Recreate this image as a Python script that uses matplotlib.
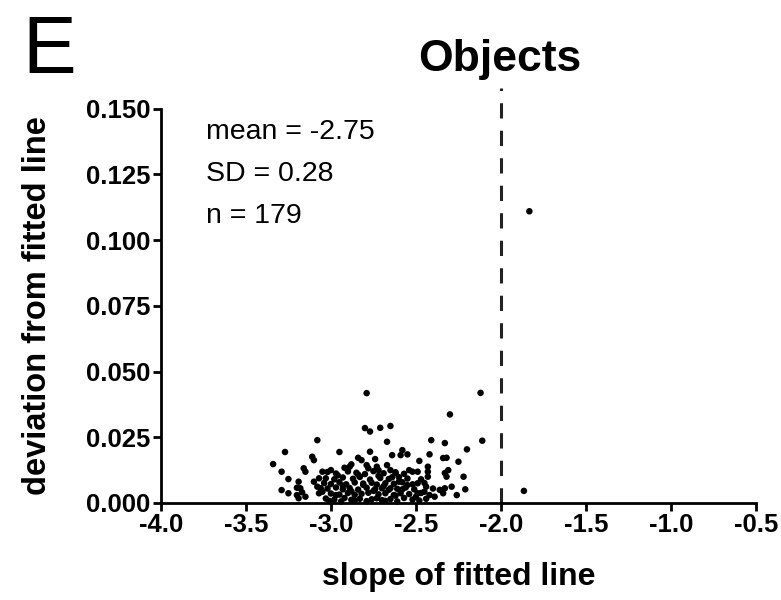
import matplotlib
matplotlib.use("Agg")
import matplotlib.pyplot as plt

plt.rcParams['font.family'] = ['Liberation Sans', 'DejaVu Sans']

# slope / deviation pairs for each object (n = 179)
slope = [
    -2.79, -2.80, -2.77, -2.71, -2.65,
    -3.08, -3.27, -2.95, -2.77, -3.34,
    -3.11, -3.10, -3.29, -3.16, -3.15,
    -3.25, -3.05, -3.29, -3.25, -3.19,
    -3.20, -3.18, -3.17, -3.20, -3.19,
    -3.15, -3.10, -3.07, -3.08, -3.06,
    -3.05, -3.07,
    -2.84, -2.82, -2.74, -3.00, -2.92, -2.88, -2.89, -2.79, -2.78, -2.73, -2.72,
    -2.67, -2.41, -2.58, -2.64, -2.59, -2.55,
    -2.42, -2.48, -2.34,
    -2.12, -2.30, -2.11, -2.20, -2.33,
    -2.32, -2.25, -2.31, -2.33, -2.32,
    -2.22, -2.29, -2.21, -2.33, -2.26,
    -1.865, -1.833,
    -2.67, -2.65, -2.62, -2.54, -2.49,
    -2.43, -2.43, -2.43, -2.60, -2.55,
    -2.49, -2.44, -2.65, -2.59, -2.49,
    -2.45, -2.42, -2.39, -2.34, -2.50,
    -3.02, -2.97, -2.90, -2.85, -2.80, -2.75, -2.69, -2.62, -2.57, -2.52,
    -3.03, -2.98, -2.93, -2.87, -2.83, -2.77, -2.71, -2.66, -2.60, -2.55, -2.47,
    -3.04, -3.00, -2.95, -2.91, -2.86, -2.81, -2.76, -2.73, -2.68, -2.63, -2.58, -2.52, -2.45,
    -3.02, -2.97, -2.93, -2.89, -2.84, -2.79, -2.74, -2.70, -2.66, -2.61, -2.56, -2.51, -2.40, -2.36,
    -3.00, -2.95, -2.90, -2.86, -2.82, -2.78, -2.72, -2.68, -2.63, -2.54, -2.47,
    -3.03, -2.98, -2.92, -2.88, -2.83, -2.76, -2.73, -2.70, -2.65, -2.57, -2.52, -2.44,
    -3.01, -2.94, -2.86, -2.79, -2.68, -2.61, -2.48,
    -2.96, -2.84, -2.72, -2.64, -2.93, -2.81, -2.69, -2.58, -2.88, -2.75, -2.62, -2.97,
]
deviation = [
    0.0418, 0.0285, 0.0272, 0.0286, 0.0293,
    0.0239, 0.0194, 0.0194, 0.0195, 0.0148,
    0.0176, 0.0163, 0.0119, 0.0132, 0.0119,
    0.0091, 0.0119, 0.0049, 0.0037, 0.0081,
    0.0058, 0.0056, 0.0041, 0.0030, 0.0018,
    0.0024, 0.0081, 0.0094, 0.0062, 0.0056,
    0.0043, 0.0037,
    0.0172, 0.0163, 0.0167, 0.0125, 0.0134, 0.0147, 0.0138, 0.0144, 0.0132, 0.0138, 0.0125,
    0.0233, 0.0239, 0.0201, 0.0182, 0.0182, 0.0185,
    0.0185, 0.0160, 0.0171,
    0.0419, 0.0337, 0.0237, 0.0204, 0.0228,
    0.0172, 0.0157, 0.0125, 0.0114, 0.0100,
    0.0100, 0.0062, 0.0052, 0.0056, 0.0030,
    0.0046, 0.1110,
    0.0144, 0.0125, 0.0113, 0.0125, 0.0119,
    0.0138, 0.0119, 0.0100, 0.0081, 0.0068,
    0.0075, 0.0062, 0.0056, 0.0037, 0.0037,
    0.0043, 0.0030, 0.0024, 0.0037, 0.0024,
    0.0118, 0.0112, 0.0120, 0.0115, 0.0110, 0.0121, 0.0113, 0.0117, 0.0111, 0.0119,
    0.0094, 0.0090, 0.0097, 0.0092, 0.0099, 0.0089, 0.0095, 0.0091, 0.0098, 0.0093, 0.0090,
    0.0076, 0.0072, 0.0079, 0.0071, 0.0078, 0.0074, 0.0077, 0.0070, 0.0075, 0.0073, 0.0079, 0.0071, 0.0076,
    0.0055, 0.0059, 0.0052, 0.0057, 0.0051, 0.0058, 0.0053, 0.0056, 0.0050, 0.0054, 0.0059, 0.0052, 0.0055, 0.0050,
    0.0036, 0.0032, 0.0038, 0.0031, 0.0035, 0.0039, 0.0033, 0.0037, 0.0030, 0.0034, 0.0038,
    0.0017, 0.0013, 0.0019, 0.0012, 0.0016, 0.0014, 0.0018, 0.0011, 0.0015, 0.0019, 0.0013, 0.0016,
    0.0008, 0.0006, 0.0009, 0.0007, 0.0008, 0.0006, 0.0009,
    0.0105, 0.0108, 0.0103, 0.0098, 0.0066, 0.0069, 0.0064, 0.0052, 0.0045, 0.0046, 0.0028, 0.0030,
]

x_ticks = [-4.0, -3.5, -3.0, -2.5, -2.0, -1.5, -1.0, -0.5]
y_ticks = [0.000, 0.025, 0.050, 0.075, 0.100, 0.125, 0.150]
threshold = -2.0
stats_lines = ["mean = -2.75", "SD = 0.28", "n = 179"]

fig = plt.figure(figsize=(7.81, 6.0), dpi=100)
ax = fig.add_axes([0.206, 0.1617, 0.762, 0.657])

ax.scatter(slope, deviation, s=22, c='black', edgecolors='none', zorder=3, clip_on=False)

# dashed reference line at slope = -2
ax.plot([threshold, threshold], [0.0, 0.158], color='#222222', lw=2.2,
        linestyle=(0, (5, 4)), clip_on=False, zorder=2)

ax.set_xlim(-4.0, -0.5)
ax.set_ylim(0.0, 0.150)
ax.set_xticks(x_ticks)
ax.set_xticklabels([f"{v:.1f}" for v in x_ticks])
ax.set_yticks(y_ticks)
ax.set_yticklabels([f"{v:.3f}" for v in y_ticks])

for side in ('top', 'right'):
    ax.spines[side].set_visible(False)
for side in ('left', 'bottom'):
    ax.spines[side].set_linewidth(2.0)

ax.tick_params(axis='both', direction='out', length=6, width=2.0, pad=1.5,
               labelsize=18.5)
for lbl in ax.get_xticklabels() + ax.get_yticklabels():
    lbl.set_fontweight('bold')

ax.set_xlabel("slope of fitted line", fontsize=23, fontweight='bold', labelpad=18)
ax.set_ylabel("deviation from fitted line", fontsize=23.5, fontweight='bold', labelpad=24)

fig.text(500 / 781, 1 - 60 / 600, "Objects", fontsize=32, fontweight='bold',
         ha='center', va='center')

ax.text(0.075, 0.975, "\n".join(stats_lines), transform=ax.transAxes,
        fontsize=20.5, va='top', ha='left', linespacing=1.8)

fig.text(0.029, 0.977, "E", fontsize=58, va='top', ha='left')

fig.savefig("out.png", dpi=100)
